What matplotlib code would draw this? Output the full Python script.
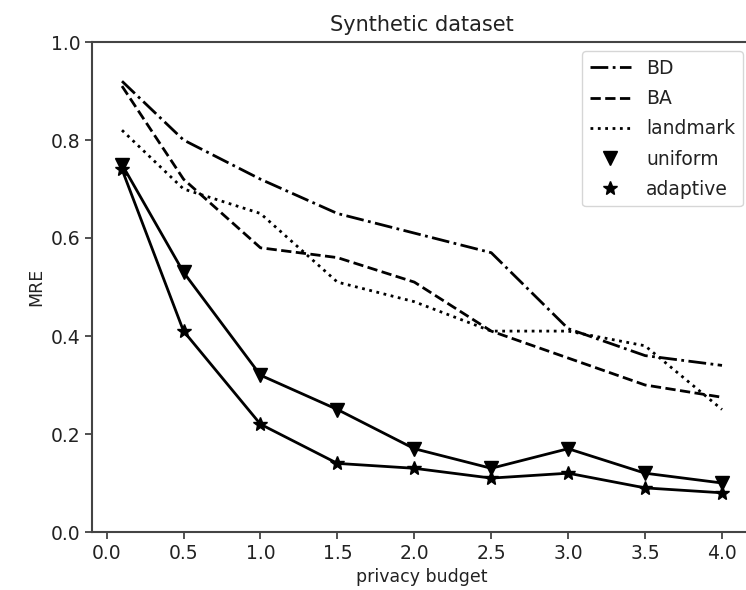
import numpy as np
from matplotlib import pyplot as plt

# privacy budget values
budget = [0.1, 0.5, 1.0, 1.5, 2.0, 2.5, 3.0, 3.5, 4.0]

# MRE per method
bd = [0.92, 0.80, 0.72, 0.65, 0.61, 0.57, 0.415, 0.36, 0.34]
ba = [0.91, 0.72, 0.58, 0.56, 0.51, 0.41, 0.355, 0.30, 0.275]
landmark = [0.82, 0.70, 0.65, 0.51, 0.47, 0.41, 0.41, 0.38, 0.25]
uniform = [0.75, 0.53, 0.32, 0.25, 0.17, 0.13, 0.17, 0.12, 0.10]
adaptive = [0.74, 0.41, 0.22, 0.14, 0.13, 0.11, 0.12, 0.09, 0.08]

fs = 13.5

fig = plt.figure(figsize=(7.46, 5.9), dpi=100)
# right spine falls just outside the picture, as in the reference crop
ax = fig.add_axes([92 / 746, 58 / 590, 660 / 746, 490 / 590])

ax.plot(budget, bd, "k-.", lw=2, label="BD")
ax.plot(budget, ba, "k--", lw=2, label="BA")
ax.plot(budget, landmark, "k:", lw=2, label="landmark")

# lines drawn separately so the legend shows only the markers
ax.plot(budget, uniform, "k-", lw=2)
ax.plot(budget, uniform, "kv", ms=10, label="uniform")
ax.plot(budget, adaptive, "k-", lw=2)
ax.plot(budget, adaptive, "k*", ms=10, label="adaptive")

ax.set_ylim(0, 1.0)
ax.set_xticks(np.arange(0, 4.01, 0.5))
ax.set_yticks(np.arange(0, 1.01, 0.2))
ax.tick_params(labelsize=fs, length=5, width=1.2, colors="#333333", labelcolor="#222222")
for s in ax.spines.values():
    s.set_linewidth(1.5)
    s.set_color("#444444")

ax.set_title("Synthetic dataset", fontsize=fs + 1.5, color="#222222", pad=8)
ax.set_xlabel("privacy budget", fontsize=fs - 1, color="#222222")
ax.set_ylabel("MRE", fontsize=fs - 1, color="#222222")

leg = ax.legend(loc="upper right", fontsize=fs, handlelength=2.2, labelspacing=0.6)
for t in leg.get_texts():
    t.set_color("#222222")

fig.savefig("out.png", dpi=100)
plt.close()
